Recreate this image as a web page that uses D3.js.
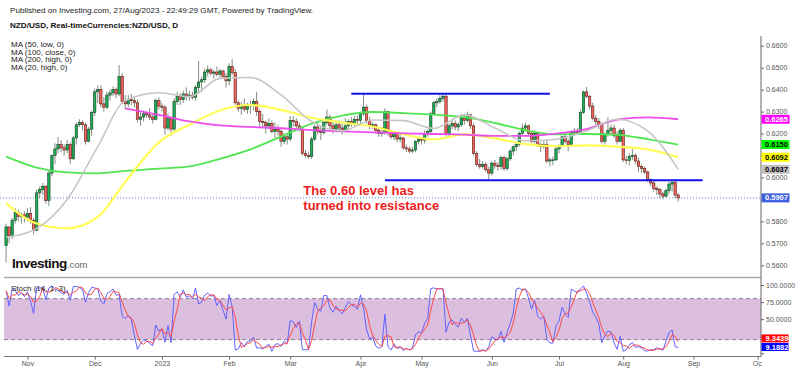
<!DOCTYPE html>
<html>
<head>
<meta charset="utf-8">
<script src="https://cdn.jsdelivr.net/npm/d3@7"></script>
<style>
  body { margin: 0; background: #fff; }
  svg { display: block; font-family: "Liberation Sans", Arial, sans-serif; }
</style>
</head>
<body>
<svg id="chart" width="800" height="372"></svg>
<script>
// ---- data: NZD/USD daily, one entry per trading day starting 21 Oct 2022 ----
var startDate = "2022-10-21";
var firstOpen = 0.5690;

var highs = [
  0.5790,0.5775,0.5815,0.5860,0.5855,0.5840,0.5845,0.5860,0.5865,0.5815,
  0.5945,0.5960,0.5975,0.5965,0.6035,0.6105,0.6155,0.6185,0.6170,0.6150,
  0.6170,0.6160,0.6190,0.6250,0.6265,0.6260,0.6250,0.6230,0.6305,0.6405,
  0.6420,0.6420,0.6365,0.6390,0.6400,0.6415,0.6410,0.6512,0.6475,0.6375,
  0.6375,0.6380,0.6370,0.6355,0.6300,0.6305,0.6300,0.6315,0.6290,0.6360,
  0.6365,0.6340,0.6330,0.6290,0.6280,0.6360,0.6390,0.6385,0.6395,0.6410,
  0.6395,0.6390,0.6420,0.6530,0.6460,0.6495,0.6510,0.6500,0.6490,0.6505,
  0.6495,0.6490,0.6475,0.6520,0.6538,0.6495,0.6350,0.6345,0.6360,0.6340,
  0.6350,0.6360,0.6390,0.6310,0.6290,0.6260,0.6270,0.6260,0.6250,0.6240,
  0.6225,0.6200,0.6195,0.6280,0.6280,0.6270,0.6250,0.6230,0.6125,0.6115,
  0.6185,0.6240,0.6250,0.6235,0.6260,0.6310,0.6285,0.6255,0.6260,0.6260,
  0.6245,0.6270,0.6265,0.6275,0.6280,0.6285,0.6300,0.6385,0.6330,0.6275,
  0.6250,0.6245,0.6230,0.6230,0.6315,0.6305,0.6215,0.6210,0.6205,0.6200,
  0.6185,0.6150,0.6140,0.6140,0.6170,0.6180,0.6185,0.6215,0.6220,0.6300,
  0.6350,0.6360,0.6375,0.6385,0.6383,0.6245,0.6260,0.6260,0.6250,0.6290,
  0.6290,0.6300,0.6290,0.6245,0.6120,0.6085,0.6075,0.6070,0.6050,0.6075,
  0.6080,0.6070,0.6100,0.6100,0.6095,0.6130,0.6145,0.6160,0.6210,0.6245,
  0.6250,0.6240,0.6210,0.6215,0.6210,0.6160,0.6165,0.6170,0.6090,0.6095,
  0.6140,0.6150,0.6190,0.6200,0.6175,0.6215,0.6225,0.6225,0.6310,0.6395,
  0.6412,0.6375,0.6340,0.6285,0.6270,0.6250,0.6205,0.6275,0.6240,0.6240,
  0.6210,0.6225,0.6225,0.6100,0.6110,0.6130,0.6110,0.6090,0.6060,0.6050,
  0.6030,0.5995,0.5990,0.5960,0.5950,0.5935,0.5950,0.5980,0.5988,0.5985,
  0.5930
];
var lows = [
  0.5612,0.5700,0.5720,0.5790,0.5800,0.5790,0.5795,0.5800,0.5790,0.5740,
  0.5755,0.5905,0.5920,0.5880,0.5870,0.6005,0.6060,0.6110,0.6115,0.6100,
  0.6110,0.6060,0.6080,0.6150,0.6230,0.6215,0.6150,0.6160,0.6190,0.6280,
  0.6340,0.6320,0.6300,0.6310,0.6350,0.6370,0.6360,0.6370,0.6335,0.6310,
  0.6320,0.6330,0.6320,0.6250,0.6235,0.6255,0.6270,0.6260,0.6245,0.6260,
  0.6310,0.6300,0.6195,0.6215,0.6190,0.6210,0.6330,0.6330,0.6340,0.6350,
  0.6350,0.6355,0.6350,0.6380,0.6390,0.6430,0.6460,0.6465,0.6450,0.6460,
  0.6450,0.6450,0.6410,0.6420,0.6465,0.6330,0.6300,0.6285,0.6300,0.6290,
  0.6290,0.6305,0.6280,0.6230,0.6230,0.6200,0.6220,0.6200,0.6180,0.6190,
  0.6140,0.6150,0.6150,0.6165,0.6230,0.6225,0.6210,0.6100,0.6090,0.6085,
  0.6085,0.6165,0.6195,0.6170,0.6195,0.6240,0.6220,0.6200,0.6205,0.6210,
  0.6195,0.6210,0.6220,0.6230,0.6235,0.6240,0.6240,0.6280,0.6245,0.6220,
  0.6220,0.6200,0.6185,0.6185,0.6195,0.6190,0.6175,0.6170,0.6160,0.6160,
  0.6125,0.6115,0.6110,0.6110,0.6115,0.6150,0.6150,0.6155,0.6185,0.6200,
  0.6285,0.6320,0.6335,0.6345,0.6180,0.6185,0.6220,0.6215,0.6210,0.6230,
  0.6240,0.6250,0.6220,0.6100,0.6050,0.6040,0.6040,0.6025,0.5990,0.6010,
  0.6040,0.6030,0.6035,0.6030,0.6030,0.6075,0.6100,0.6120,0.6140,0.6195,
  0.6210,0.6190,0.6155,0.6155,0.6140,0.6115,0.6130,0.6065,0.6050,0.6055,
  0.6075,0.6110,0.6140,0.6155,0.6120,0.6140,0.6190,0.6195,0.6195,0.6290,
  0.6360,0.6310,0.6260,0.6240,0.6220,0.6155,0.6150,0.6185,0.6195,0.6180,
  0.6150,0.6160,0.6070,0.6060,0.6055,0.6080,0.6060,0.6025,0.6020,0.6015,
  0.5980,0.5960,0.5935,0.5920,0.5905,0.5900,0.5910,0.5925,0.5935,0.5905,
  0.5890
];
var closes = [
  0.5775,0.5735,0.5805,0.5840,0.5822,0.5830,0.5818,0.5835,0.5805,0.5760,
  0.5930,0.5945,0.5960,0.5895,0.6020,0.6100,0.6130,0.6150,0.6135,0.6125,
  0.6150,0.6085,0.6180,0.6240,0.6250,0.6240,0.6165,0.6220,0.6295,0.6390,
  0.6400,0.6335,0.6320,0.6375,0.6385,0.6400,0.6380,0.6460,0.6345,0.6335,
  0.6355,0.6350,0.6340,0.6265,0.6275,0.6290,0.6285,0.6275,0.6265,0.6350,
  0.6325,0.6320,0.6225,0.6270,0.6220,0.6345,0.6370,0.6355,0.6380,0.6370,
  0.6375,0.6365,0.6410,0.6435,0.6445,0.6480,0.6490,0.6475,0.6480,0.6470,
  0.6485,0.6460,0.6440,0.6505,0.6478,0.6340,0.6315,0.6325,0.6310,0.6330,
  0.6330,0.6345,0.6300,0.6255,0.6250,0.6235,0.6245,0.6210,0.6220,0.6210,
  0.6165,0.6185,0.6175,0.6260,0.6255,0.6235,0.6220,0.6110,0.6100,0.6095,
  0.6175,0.6230,0.6210,0.6205,0.6250,0.6275,0.6235,0.6220,0.6240,0.6225,
  0.6215,0.6235,0.6255,0.6245,0.6265,0.6260,0.6290,0.6320,0.6260,0.6235,
  0.6240,0.6215,0.6200,0.6205,0.6300,0.6205,0.6185,0.6200,0.6175,0.6180,
  0.6135,0.6130,0.6120,0.6125,0.6165,0.6175,0.6170,0.6200,0.6210,0.6290,
  0.6340,0.6345,0.6360,0.6370,0.6195,0.6235,0.6245,0.6230,0.6240,0.6270,
  0.6260,0.6285,0.6235,0.6110,0.6060,0.6050,0.6060,0.6035,0.6020,0.6065,
  0.6055,0.6050,0.6090,0.6040,0.6085,0.6120,0.6140,0.6150,0.6200,0.6225,
  0.6235,0.6200,0.6165,0.6200,0.6150,0.6140,0.6150,0.6075,0.6080,0.6080,
  0.6130,0.6145,0.6185,0.6165,0.6150,0.6205,0.6210,0.6205,0.6295,0.6390,
  0.6370,0.6325,0.6270,0.6255,0.6240,0.6165,0.6195,0.6215,0.6225,0.6190,
  0.6165,0.6215,0.6080,0.6078,0.6095,0.6100,0.6075,0.6050,0.6040,0.6025,
  0.5990,0.5975,0.5950,0.5945,0.5925,0.5915,0.5940,0.5970,0.5978,0.5920,
  0.5907
];

// moving averages at these bar positions
var maIndex    = [0, 10, 20, 30, 39, 50, 60, 70, 80, 90, 100, 110, 120, 130, 140, 150, 160, 170, 180, 190, 200, 210, 220];
var ma20High   = [0.5728,0.5768,0.5900,0.6140,0.6350,0.6386,0.6368,0.6451,0.6455,0.6376,0.6254,0.6212,0.6262,0.6259,0.6224,0.6285,0.6225,0.6167,0.6174,0.6212,0.6265,0.6212,0.6037];
var ma50Low    = [0.5882,0.5790,0.5768,0.5820,0.5980,0.6160,0.6240,0.6305,0.6330,0.6308,0.6272,0.6250,0.6232,0.6197,0.6173,0.6196,0.6178,0.6152,0.6143,0.6146,0.6140,0.6128,0.6092];
var ma100Close = [0.6095,0.6045,0.6023,0.6019,0.6030,0.6040,0.6050,0.6085,0.6128,0.6186,0.6245,0.6282,0.6298,0.6293,0.6286,0.6275,0.6248,0.6215,0.6196,0.6198,0.6194,0.6175,0.6150];
var ma200High  = [null,null,null,null,0.6315,0.6285,0.6255,0.6237,0.6230,0.6224,0.6216,0.6210,0.6205,0.6201,0.6198,0.6195,0.6189,0.6189,0.6200,0.6220,0.6263,0.6274,0.6265];

var maNames  = ["MA (50, low, 0)", "MA (100, close, 0)", "MA (200, high, 0)", "MA (20, high, 0)"];

// hand-drawn levels: [price, from bar, to bar]
var levels = [[0.6381, 113, 178], [0.5987, 124, 228]];

var priceTicks = [0.56, 0.57, 0.58, 0.59, 0.60, 0.61, 0.62, 0.63, 0.64, 0.65, 0.66];
var stochTicks = [0, 25, 50, 75, 100];
var stochBand = [20, 80];
var stochLast = [9.3439, 9.1882];   // %D, %K

var monthLabels = ["Nov", "Dec", "2023", "Feb", "Mar", "Apr", "May", "Jun", "Jul", "Aug", "Sep", "Oct"];
var monthStarts = ["2022-11-01", "2022-12-01", "2023-01-01", "2023-02-01", "2023-03-01", "2023-04-01",
                   "2023-05-01", "2023-06-01", "2023-07-01", "2023-08-01", "2023-09-01", "2023-10-01"];

// ---- setup ----
var svg = d3.select("#chart");
var parse = d3.utcParse("%Y-%m-%d");
var tradingDays = d3.utcDays(parse(startDate), parse("2023-10-10")).filter(d => d.getUTCDay() % 6 !== 0);

var bars = closes.map((c, i) => ({
  i: i,
  o: i ? closes[i - 1] : firstOpen,
  h: highs[i],
  l: lows[i],
  c: c
}));

var x = d3.scaleLinear().domain([0, 246]).range([6.1, 6.1 + 3.055 * 246]);
var y = d3.scaleLinear().domain([0.56, 0.66]).range([265.3, 45.7]);
var ys = d3.scaleLinear().domain([0, 100]).range([353.3, 285]);

var axisX = 761;

// stochastic (14, 1, 3)
var stochK = bars.map((b, i) => {
  var win = bars.slice(Math.max(0, i - 13), i + 1);
  var hh = d3.max(win, d => d.h), ll = d3.min(win, d => d.l);
  return hh === ll ? 50 : 100 * (b.c - ll) / (hh - ll);
});
var stochD = stochK.map((k, i) => d3.mean(stochK.slice(Math.max(0, i - 2), i + 1)));

var defs = svg.append("defs");
defs.append("clipPath").attr("id", "clipMain")
  .append("rect").attr("x", 0).attr("y", 34).attr("width", axisX).attr("height", 242);
defs.append("clipPath").attr("id", "clipStoch")
  .append("rect").attr("x", 0).attr("y", 279).attr("width", axisX).attr("height", 77);
defs.append("clipPath").attr("id", "clipAxis")
  .append("rect").attr("x", 0).attr("y", 350).attr("width", axisX + 1).attr("height", 22);

// ---- header ----
svg.append("text").attr("x", 10).attr("y", 13)
  .attr("font-size", "8.1px").attr("fill", "#222")
  .text("Published on Investing.com, 27/Aug/2023 - 22:49:29 GMT, Powered by TradingView.");
svg.append("text").attr("x", 10).attr("y", 28)
  .attr("font-size", "8.1px").attr("font-weight", "bold").attr("fill", "#111")
  .text("NZD/USD, Real-timeCurrencies:NZD/USD, D");

svg.append("g")
  .selectAll("text")
  .data(maNames)
  .enter().append("text")
  .attr("x", 11)
  .attr("y", (d, i) => 47 + i * 7.5)
  .attr("font-size", "8px")
  .attr("fill", "#222")
  .text(d => d);

// ---- main pane ----
var main = svg.append("g").attr("clip-path", "url(#clipMain)");

// last price dotted line
main.append("line")
  .attr("x1", 0).attr("x2", axisX)
  .attr("y1", y(closes[closes.length - 1])).attr("y2", y(closes[closes.length - 1]))
  .attr("stroke", "#5d7be0").attr("stroke-width", 1).attr("stroke-dasharray", "1,2");

// candles
var candle = main.append("g").attr("id", "candles")
  .selectAll("g")
  .data(bars)
  .enter().append("g");

candle.append("line")
  .attr("x1", d => x(d.i)).attr("x2", d => x(d.i))
  .attr("y1", d => y(Math.max(d.h, d.o, d.c)))
  .attr("y2", d => y(Math.min(d.l, d.o, d.c)))
  .attr("stroke", "#7f917f")
  .attr("stroke-width", 1);

candle.append("rect")
  .attr("x", d => x(d.i) - 1.2)
  .attr("width", 2.4)
  .attr("y", d => y(Math.max(d.o, d.c)))
  .attr("height", d => Math.max(0.8, Math.abs(y(d.o) - y(d.c))))
  .attr("fill", d => d.c >= d.o ? "#17b055" : "#f2645c")
  .attr("stroke", d => d.c >= d.o ? "#1d3d24" : "#5a1b18")
  .attr("stroke-width", 0.6);

// moving averages
var maSeries = [
  { values: ma100Close, color: "#52e552", width: 1.8 },
  { values: ma50Low,    color: "#ffff55", width: 2.2 },
  { values: ma200High,  color: "#ec4eec", width: 1.8 },
  { values: ma20High,   color: "#c6c6c6", width: 1.6 }
];
var maLine = d3.line()
  .defined(d => d[1] != null)
  .x(d => x(d[0]))
  .y(d => y(d[1]))
  .curve(d3.curveMonotoneX);

main.append("g").attr("id", "ma-group")
  .selectAll("path")
  .data(maSeries)
  .enter().append("path")
  .attr("d", s => maLine(maIndex.map((k, i) => [k, s.values[i]])))
  .attr("fill", "none")
  .attr("stroke", s => s.color)
  .attr("stroke-width", s => s.width);

// support / resistance lines
main.append("g")
  .selectAll("line")
  .data(levels)
  .enter().append("line")
  .attr("x1", d => x(d[1])).attr("x2", d => x(d[2]))
  .attr("y1", d => y(d[0])).attr("y2", d => y(d[0]))
  .attr("stroke", "#1010f0")
  .attr("stroke-width", 2);

// note
var note = svg.append("text")
  .attr("x", x(97.3))
  .attr("y", y(0.5920))
  .attr("font-size", "13px")
  .attr("font-weight", "bold")
  .attr("fill", "#ee1c1c");
note.append("tspan").attr("x", x(97.3)).text("The 0.60 level has");
note.append("tspan").attr("x", x(97.3)).attr("dy", 14.5).text("turned into resistance");

// Investing logo
var logo = svg.append("text").attr("x", 12).attr("y", 268);
logo.append("tspan").attr("font-size", "13.5px").attr("font-weight", "bold")
  .attr("fill", "#111").attr("letter-spacing", "-0.5").text("Investing");
logo.append("tspan").attr("font-size", "9.5px").attr("fill", "#666").text(".com");

// pane separator
svg.append("line")
  .attr("x1", 4).attr("x2", axisX)
  .attr("y1", 277.5).attr("y2", 277.5)
  .attr("stroke", "#aaa").attr("stroke-width", 1.5);

// ---- stochastic pane ----
var stoch = svg.append("g").attr("clip-path", "url(#clipStoch)");

stoch.append("rect")
  .attr("x", 4).attr("width", axisX - 4)
  .attr("y", ys(stochBand[1])).attr("height", ys(stochBand[0]) - ys(stochBand[1]))
  .attr("fill", "#dcbfde");

stoch.selectAll("line.band")
  .data(stochBand)
  .enter().append("line")
  .classed("band", true)
  .attr("x1", 4).attr("x2", axisX)
  .attr("y1", d => ys(d)).attr("y2", d => ys(d))
  .attr("stroke", "#8d7d8d").attr("stroke-width", 1).attr("stroke-dasharray", "4,3");

var stochLine = d3.line().x((d, i) => x(i)).y(d => ys(d));
stoch.append("path")
  .attr("d", stochLine(stochK))
  .attr("fill", "none").attr("stroke", "#6262ff").attr("stroke-width", 1);
stoch.append("path")
  .attr("d", stochLine(stochD))
  .attr("fill", "none").attr("stroke", "#ff4a4a").attr("stroke-width", 1);

svg.append("text").attr("x", 11).attr("y", 291)
  .attr("font-size", "8px").attr("fill", "#222")
  .text("Stoch (14, 1, 3)");

// ---- last value tags (positions needed to hide covered tick labels) ----
var priceTags = [
  { v: ma200High[ma200High.length - 1], bg: "#ff00ff", fg: "#fff" },
  { v: ma100Close[ma100Close.length - 1], bg: "#00ff00", fg: "#000" },
  { v: ma50Low[ma50Low.length - 1], bg: "#ffff00", fg: "#000" },
  { v: ma20High[ma20High.length - 1], bg: "#c0c0c0", fg: "#000" },
  { v: closes[closes.length - 1], bg: "#3f63e0", fg: "#fff" }
];
var stochTags = [
  { v: stochLast[0], bg: "#ff0000", dy: -8.5 },
  { v: stochLast[1], bg: "#0000ff", dy: 0 }
];
var tagYs = priceTags.map(d => y(d.v)).concat(stochTags.map(d => ys(d.v) + d.dy));

// ---- axes ----
var tickStyle = g => {
  g.select(".domain").remove();
  g.selectAll(".tick line").attr("stroke", "#666");
  g.selectAll(".tick text").attr("fill", "#555").attr("font-size", "7px")
    .attr("font-family", "'Liberation Sans', Arial, sans-serif");
};
// tick labels that sit under a value tag are hidden, as in the original
var hideCovered = (scale) => g => {
  g.selectAll(".tick text")
    .filter(d => tagYs.some(t => Math.abs(t - scale(d)) < 7))
    .remove();
};

svg.append("g")
  .attr("transform", "translate(" + axisX + ",0)")
  .call(d3.axisRight(y).tickValues(priceTicks).tickSize(3).tickPadding(2).tickFormat(d3.format(".4f")))
  .call(tickStyle)
  .call(hideCovered(y));

svg.append("g")
  .attr("transform", "translate(" + axisX + ",0)")
  .call(d3.axisRight(ys).tickValues(stochTicks).tickSize(3).tickPadding(2).tickFormat(d3.format(".4f")))
  .call(tickStyle)
  .call(hideCovered(ys));

var monthIdx = monthStarts.map(s => d3.bisectLeft(tradingDays, parse(s)));
svg.append("g")
  .attr("clip-path", "url(#clipAxis)")
  .append("g")
  .attr("transform", "translate(0,356.5)")
  .call(d3.axisBottom(x).tickValues(monthIdx).tickSize(3).tickPadding(2).tickFormat((d, i) => monthLabels[i]))
  .call(tickStyle);

// axis lines
svg.append("line")
  .attr("x1", axisX).attr("x2", axisX).attr("y1", 36).attr("y2", 357)
  .attr("stroke", "#666").attr("stroke-width", 1);
svg.append("line")
  .attr("x1", 4).attr("x2", axisX).attr("y1", 356.5).attr("y2", 356.5)
  .attr("stroke", "#777").attr("stroke-width", 1);

var tag = svg.append("g").selectAll("g")
  .data(priceTags)
  .enter().append("g")
  .attr("transform", d => "translate(" + (axisX + 0.5) + "," + y(d.v) + ")");
tag.append("rect").attr("x", 0).attr("y", -4.5).attr("width", 28).attr("height", 9).attr("fill", d => d.bg);
tag.append("text").attr("x", 3.5).attr("y", 2.6)
  .attr("font-size", "7.5px").attr("font-weight", "bold").attr("fill", d => d.fg)
  .text(d => d.v.toFixed(4));

var stag = svg.append("g").selectAll("g")
  .data(stochTags)
  .enter().append("g")
  .attr("transform", d => "translate(" + (axisX + 0.5) + "," + (ys(d.v) + d.dy) + ")");
stag.append("rect").attr("x", 0).attr("y", -4).attr("width", 27).attr("height", 8).attr("fill", d => d.bg);
stag.append("text").attr("x", 4).attr("y", 2.6)
  .attr("font-size", "7.5px").attr("font-weight", "bold").attr("fill", "#fff")
  .text(d => d.v.toFixed(4));
</script>
</body>
</html>
